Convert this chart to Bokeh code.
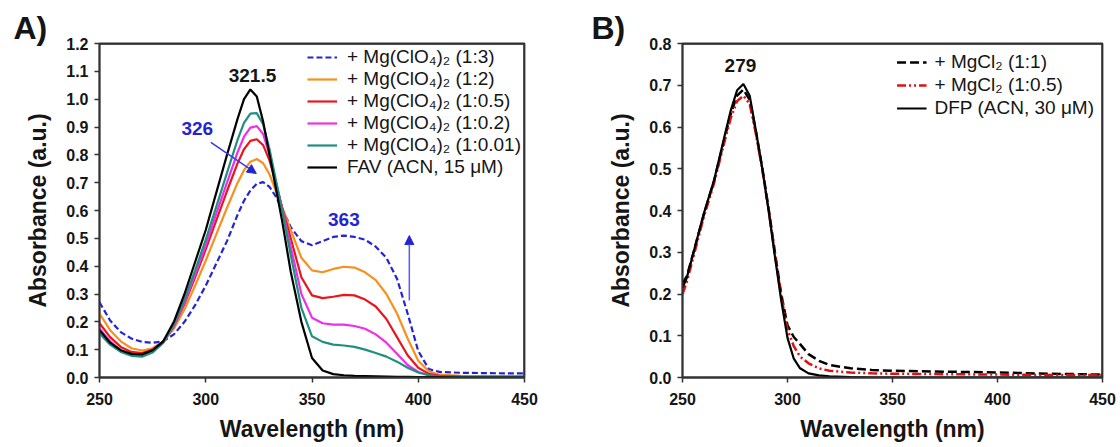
from bokeh.plotting import figure
from bokeh.models import (ColumnDataSource, Legend, LegendItem, Label, Arrow,
                          NormalHead, FixedTicker, PrintfTickFormatter, Span)
from bokeh.layouts import row
from bokeh.embed import file_html
from bokeh.resources import INLINE

# ---------------- Panel A data (FAV + Mg(ClO4)2) ----------------
wl_a = [250, 255, 260, 265, 270, 275, 280, 285, 290, 295, 300, 305, 310, 315, 318,
        321, 324, 327, 330, 333, 336, 340, 345, 350, 355, 360, 365, 370, 375, 380,
        385, 390, 395, 400, 405, 410, 420, 430, 440, 450]

fav = [0.170, 0.125, 0.098, 0.085, 0.083, 0.098, 0.130, 0.200, 0.300, 0.415, 0.530,
       0.665, 0.800, 0.930, 1.000, 1.035, 1.010, 0.920, 0.800, 0.680, 0.560, 0.380,
       0.200, 0.070, 0.025, 0.012, 0.008, 0.006, 0.005, 0.004, 0.003, 0.002, 0.002,
       0.001, 0.001, 0.001, 0.000, 0.000, 0.000, 0.000]

mg_0_01 = [0.158, 0.118, 0.092, 0.078, 0.075, 0.090, 0.125, 0.190, 0.280, 0.385, 0.495,
           0.615, 0.735, 0.855, 0.915, 0.948, 0.950, 0.910, 0.820, 0.710, 0.600, 0.440,
           0.250, 0.148, 0.128, 0.118, 0.115, 0.110, 0.100, 0.088, 0.075, 0.057, 0.035,
           0.018, 0.008, 0.004, 0.002, 0.001, 0.001, 0.001]

mg_0_2 = [0.176, 0.130, 0.098, 0.082, 0.078, 0.092, 0.125, 0.185, 0.270, 0.370, 0.475,
          0.590, 0.700, 0.810, 0.865, 0.898, 0.903, 0.875, 0.800, 0.700, 0.605, 0.470,
          0.300, 0.215, 0.195, 0.190, 0.190, 0.185, 0.175, 0.155, 0.125, 0.085, 0.045,
          0.020, 0.008, 0.004, 0.002, 0.001, 0.001, 0.001]

mg_0_5 = [0.195, 0.145, 0.110, 0.092, 0.088, 0.100, 0.130, 0.185, 0.265, 0.360, 0.460,
          0.565, 0.670, 0.770, 0.820, 0.850, 0.856, 0.835, 0.780, 0.700, 0.610, 0.500,
          0.360, 0.295, 0.285, 0.290, 0.297, 0.295, 0.280, 0.255, 0.210, 0.145, 0.080,
          0.035, 0.013, 0.006, 0.003, 0.002, 0.002, 0.002]

mg_2 = [0.230, 0.170, 0.130, 0.105, 0.097, 0.105, 0.130, 0.175, 0.245, 0.330, 0.420,
        0.515, 0.610, 0.700, 0.745, 0.775, 0.785, 0.770, 0.730, 0.670, 0.610, 0.530,
        0.430, 0.385, 0.378, 0.390, 0.398, 0.395, 0.378, 0.350, 0.300, 0.230, 0.140,
        0.060, 0.022, 0.010, 0.006, 0.005, 0.005, 0.005]

mg_3 = [0.270, 0.205, 0.163, 0.140, 0.128, 0.125, 0.130, 0.155, 0.200, 0.260, 0.330,
        0.410, 0.490, 0.585, 0.635, 0.672, 0.696, 0.702, 0.685, 0.650, 0.605, 0.540,
        0.490, 0.475, 0.490, 0.505, 0.510, 0.505, 0.495, 0.470, 0.430, 0.355, 0.230,
        0.095, 0.030, 0.020, 0.017, 0.016, 0.015, 0.015]

labels_a = ["+ Mg(ClO\u2084)\u2082 (1:3)", "+ Mg(ClO\u2084)\u2082 (1:2)",
            "+ Mg(ClO\u2084)\u2082 (1:0.5)", "+ Mg(ClO\u2084)\u2082 (1:0.2)",
            "+ Mg(ClO\u2084)\u2082 (1:0.01)", "FAV (ACN, 15 \u03bcM)"]

# ---------------- Panel B data (DFP + MgCl2) ----------------
wl_b = [250, 252, 255, 260, 265, 270, 273, 276, 279, 282, 285, 288, 291, 294, 297,
        300, 303, 306, 310, 315, 320, 330, 340, 350, 375, 400, 425, 450]

dfp = [0.215, 0.238, 0.295, 0.390, 0.472, 0.578, 0.640, 0.688, 0.703, 0.675, 0.590,
       0.500, 0.400, 0.290, 0.185, 0.095, 0.045, 0.022, 0.010, 0.005, 0.003, 0.001,
       0.000, 0.000, 0.000, 0.000, 0.000, 0.000]

mgcl_1 = [0.225, 0.242, 0.295, 0.388, 0.470, 0.572, 0.632, 0.675, 0.690, 0.665, 0.588,
          0.502, 0.405, 0.300, 0.200, 0.125, 0.097, 0.080, 0.056, 0.040, 0.030, 0.022,
          0.018, 0.016, 0.014, 0.012, 0.009, 0.007]

mgcl_0_5 = [0.200, 0.228, 0.285, 0.382, 0.465, 0.565, 0.622, 0.662, 0.675, 0.655, 0.582,
            0.498, 0.402, 0.296, 0.195, 0.115, 0.075, 0.050, 0.034, 0.022, 0.016, 0.012,
            0.010, 0.009, 0.008, 0.007, 0.006, 0.006]

labels_b = ["+ MgCl\u2082 (1:1)", "+ MgCl\u2082 (1:0.5)", "DFP (ACN, 30 \u03bcM)"]

x_ticks = [250, 300, 350, 400, 450]
y_ticks_a = [0.0, 0.1, 0.2, 0.3, 0.4, 0.5, 0.6, 0.7, 0.8, 0.9, 1.0, 1.1, 1.2]
y_ticks_b = [0.0, 0.1, 0.2, 0.3, 0.4, 0.5, 0.6, 0.7, 0.8]

FONT = "Liberation Sans"
BLUE = "#2424d4"
INK = "#151515"
FRAME = "#333333"


def style(p, yticks, panel_label, label_offset):
    p.outline_line_color = FRAME
    p.outline_line_width = 1.8
    p.outline_line_alpha = 1.0
    p.xgrid.visible = False
    p.ygrid.visible = False
    # top and right edges of the plot frame
    p.add_layout(Span(location=yticks[-1], dimension="width",
                      line_color=FRAME, line_width=2.5))
    p.add_layout(Span(location=x_ticks[-1], dimension="height",
                      line_color=FRAME, line_width=2.5))
    xax = p.below[0]
    yax = p.left[0]
    for ax in (xax, yax):
        ax.axis_line_width = 1.8
        ax.axis_line_color = FRAME
        ax.major_tick_line_width = 1.5
        ax.major_tick_line_color = FRAME
        ax.major_tick_out = 5
        ax.major_tick_in = 0
        ax.minor_tick_out = 0
        ax.minor_tick_in = 0
        ax.major_label_text_font = FONT
        ax.major_label_text_font_style = "bold"
        ax.major_label_text_font_size = "16px"
        ax.major_label_text_color = INK
        ax.axis_label_text_font = FONT
        ax.axis_label_text_font_style = "bold"
        ax.axis_label_text_font_size = "23px"
        ax.axis_label_text_color = INK
    xax.ticker = FixedTicker(ticks=x_ticks)
    yax.ticker = FixedTicker(ticks=yticks)
    yax.formatter = PrintfTickFormatter(format="%.1f")
    xax.major_label_standoff = 10
    xax.axis_label_standoff = 8
    yax.major_label_standoff = 6
    yax.axis_label_standoff = 12
    xax.axis_label = "Wavelength (nm)"
    yax.axis_label = "Absorbance (a.u.)"
    p.title.text = panel_label
    p.title.text_font = FONT
    p.title.text_font_style = "bold"
    p.title.text_font_size = "32px"
    p.title.text_color = INK
    p.title.align = "left"
    p.title.offset = label_offset
    p.title.standoff = -4


# ---------------- Figure A ----------------
pA = figure(width=560, height=445, x_range=(250, 450), y_range=(0, 1.2),
            output_backend="svg", toolbar_location=None,
            min_border_left=99, min_border_right=36, min_border_top=43,
            min_border_bottom=68)
style(pA, y_ticks_a, "A)", -86)

srcA = ColumnDataSource(dict(wl=wl_a, fav=fav, m001=mg_0_01, m02=mg_0_2,
                             m05=mg_0_5, m2=mg_2, m3=mg_3))
rA = {}
rA["m3"] = pA.line("wl", "m3", source=srcA, line_color=BLUE, line_width=2.2,
                   line_dash="6 3")
rA["m2"] = pA.line("wl", "m2", source=srcA, line_color="#f7901e", line_width=2.2)
rA["m05"] = pA.line("wl", "m05", source=srcA, line_color="#e8161d", line_width=2.2)
rA["m02"] = pA.line("wl", "m02", source=srcA, line_color="#ee2ee8", line_width=2.2)
rA["m001"] = pA.line("wl", "m001", source=srcA, line_color="#1f8f80", line_width=2.2)
rA["fav"] = pA.line("wl", "fav", source=srcA, line_color="black", line_width=2.2)

legA = Legend(items=[LegendItem(label=labels_a[0], renderers=[rA["m3"]]),
                     LegendItem(label=labels_a[1], renderers=[rA["m2"]]),
                     LegendItem(label=labels_a[2], renderers=[rA["m05"]]),
                     LegendItem(label=labels_a[3], renderers=[rA["m02"]]),
                     LegendItem(label=labels_a[4], renderers=[rA["m001"]]),
                     LegendItem(label=labels_a[5], renderers=[rA["fav"]])],
              location="top_right", margin=3, padding=0, spacing=0,
              glyph_width=30, glyph_height=20, label_height=20,
              label_standoff=10, border_line_color=None,
              background_fill_alpha=0.0,
              label_text_font=FONT, label_text_font_size="19px",
              label_text_color=INK)
pA.add_layout(legA)

lab_kw = dict(text_font=FONT, text_font_style="bold", text_font_size="19px",
              text_align="center", text_baseline="middle")
pA.add_layout(Label(x=322, y=1.085, text="321.5", text_color=INK, **lab_kw))
pA.add_layout(Label(x=296, y=0.894, text="326", text_color=BLUE, **lab_kw))
pA.add_layout(Label(x=365, y=0.567, text="363", text_color=BLUE, **lab_kw))
pA.add_layout(Arrow(x_start=302.4, y_start=0.845, x_end=323.8, y_end=0.733,
                    line_color="#3a3ae0", line_width=1.5,
                    end=NormalHead(size=9, fill_color=BLUE, line_color=BLUE)))
pA.add_layout(Arrow(x_start=395.8, y_start=0.277, x_end=395.8, y_end=0.51,
                    line_color="#5a5aff", line_width=1.5,
                    end=NormalHead(size=9, fill_color=BLUE, line_color=BLUE)))

# ---------------- Figure B ----------------
pB = figure(width=556, height=445, x_range=(250, 450), y_range=(0, 0.8),
            output_backend="svg", toolbar_location=None,
            min_border_left=122, min_border_right=14, min_border_top=43,
            min_border_bottom=68)
style(pB, y_ticks_b, "B)", -91)

srcB = ColumnDataSource(dict(wl=wl_b, dfp=dfp, m1=mgcl_1, m05=mgcl_0_5))
rB1 = pB.line("wl", "m1", source=srcB, line_color="black", line_width=2.5,
              line_dash="9 4")
rB05 = pB.line("wl", "m05", source=srcB, line_color="#e01010", line_width=2.5,
               line_dash="9 3 2 3 2 3")
rBd = pB.line("wl", "dfp", source=srcB, line_color="black", line_width=2.2)

legB = Legend(items=[LegendItem(label=labels_b[0], renderers=[rB1]),
                     LegendItem(label=labels_b[1], renderers=[rB05]),
                     LegendItem(label=labels_b[2], renderers=[rBd])],
              location="top_right", margin=8, padding=2, spacing=1,
              glyph_width=30, glyph_height=20, label_height=20,
              label_standoff=8, border_line_color=None,
              background_fill_alpha=0.0,
              label_text_font=FONT, label_text_font_size="19px",
              label_text_color=INK)
pB.add_layout(legB)
pB.add_layout(Label(x=277.6, y=0.747, text="279", text_color=INK, **lab_kw))

layout = row(pA, pB)
open("out.html", "w").write(file_html(layout, INLINE))
